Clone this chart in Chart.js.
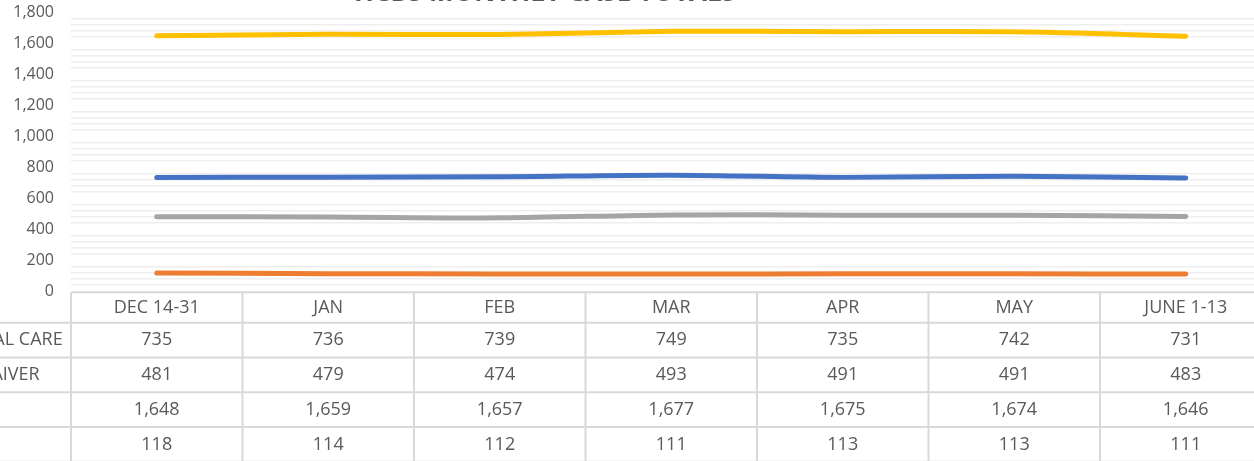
<!DOCTYPE html>
<html>
<head>
<meta charset="utf-8">
<script src="https://cdn.jsdelivr.net/npm/chart.js@4"></script>
<style>
  html, body { margin: 0; padding: 0; background: #fff; overflow: hidden; }
  body { width: 1254px; height: 461px; position: relative; }
  /* the reference is a crop of a bigger chart, so the canvas hangs off the page */
  #wrap { position: absolute; left: -120px; top: -40px; width: 1400px; height: 510px; }
</style>
</head>
<body>
<div id="wrap"><canvas id="cases" width="1400" height="510"></canvas></div>
<script>
const title = 'HCBS MONTHLY CASE TOTALS';
const months = ['DEC 14-31', 'JAN', 'FEB', 'MAR', 'APR', 'MAY', 'JUNE 1-13'];
const seriesNames = ['PERSONAL CARE', 'HCBS WAIVER', 'CDASS', 'IHSS'];
const personalCare = [735, 736, 739, 749, 735, 742, 731];
const waiver = [481, 479, 474, 493, 491, 491, 483];
const third = [1648, 1659, 1657, 1677, 1675, 1674, 1646];
const fourth = [118, 114, 112, 111, 113, 113, 111];
const seriesColors = ['#4472C4', '#A5A5A5', '#FFC000', '#ED7D31'];
const yLabels = [0, 200, 400, 600, 800, 1000, 1200, 1400, 1600, 1800];

const textColor = '#595959';
const tableFont = '18px "Open Sans"';
const rows = [personalCare, waiver, third, fourth];

// draws the title and the excel style data table under the plot
const tablePlugin = {
    id: 'dataTable',
    afterDraw(chart) {
        const ctx = chart.ctx;
        const area = chart.chartArea;
        const x = chart.scales.x;
        const colW = (area.right - area.left) / months.length;
        const top = area.bottom + 1;
        const headerH = 30.5;
        const rowH = 34.75;

        ctx.save();
        // title (only its lower edge shows in the crop)
        ctx.fillStyle = textColor;
        ctx.font = 'bold 26px "Open Sans"';
        ctx.textAlign = 'center';
        ctx.textBaseline = 'alphabetic';
        ctx.fillText(title, 665, 40.5);

        // grid of the table
        ctx.strokeStyle = '#d9d9d9';
        ctx.lineWidth = 2;
        ctx.beginPath();
        ctx.moveTo(area.left, top);
        ctx.lineTo(area.right, top);
        for (let r = 0; r <= rows.length; r++) {
            const y = top + headerH + r * rowH;
            ctx.moveTo(0, y);
            ctx.lineTo(area.right, y);
        }
        for (let c = 0; c <= months.length; c++) {
            const lx = area.left + c * colW;
            ctx.moveTo(lx, top);
            ctx.lineTo(lx, top + headerH + rows.length * rowH);
        }
        ctx.stroke();

        // texts
        ctx.font = tableFont;
        ctx.fillStyle = textColor;
        ctx.textBaseline = 'middle';
        ctx.textAlign = 'center';
        months.forEach((m, i) => {
            ctx.fillText(m, x.getPixelForValue(i), top + headerH / 2 + 0.5);
        });
        rows.forEach((vals, r) => {
            const cy = top + headerH + r * rowH + rowH / 2;
            vals.forEach((v, i) => {
                ctx.fillText(v.toLocaleString('en-US'), x.getPixelForValue(i), cy);
            });
        });
        ctx.textAlign = 'left';
        seriesNames.forEach((name, r) => {
            const cy = top + headerH + r * rowH + rowH / 2;
            ctx.fillText(name, 44, cy);
        });
        ctx.restore();
    }
};

const datasets = rows.map((vals, i) => ({
    label: seriesNames[i],
    data: vals,
    borderColor: seriesColors[i],
    backgroundColor: seriesColors[i],
    borderWidth: 5,
    borderCapStyle: 'round',
    borderJoinStyle: 'round',
    pointRadius: 0,
    tension: 0.3,
    fill: false
}));

new Chart(document.getElementById('cases'), {
    type: 'line',
    data: { labels: months, datasets: datasets },
    options: {
        responsive: false,
        animation: false,
        layout: { padding: { top: 52.3, right: 8.5, bottom: 6.7, left: 0 } },
        plugins: {
            legend: { display: false },
            title: { display: false },
            tooltip: { enabled: false }
        },
        scales: {
            x: {
                offset: true,
                grid: { display: false },
                border: { display: false },
                ticks: { display: false },
                afterFit: (scale) => { scale.height = 172; }
            },
            y: {
                min: 0,
                max: 1800,
                border: { display: false },
                grid: {
                    drawTicks: false,
                    lineWidth: 1.6,
                    color: (c) => (c.tick && yLabels.includes(c.tick.value)) ? 'rgba(0,0,0,0)' : '#eeeeee'
                },
                ticks: {
                    stepSize: 40,
                    autoSkip: false,
                    padding: 17,
                    color: textColor,
                    font: { family: 'Open Sans', size: 16 },
                    callback: (v) => yLabels.includes(v) ? v.toLocaleString('en-US') : ''
                },
                afterFit: (scale) => { scale.width = 191; }
            }
        }
    },
    plugins: [tablePlugin]
});
</script>
</body>
</html>
